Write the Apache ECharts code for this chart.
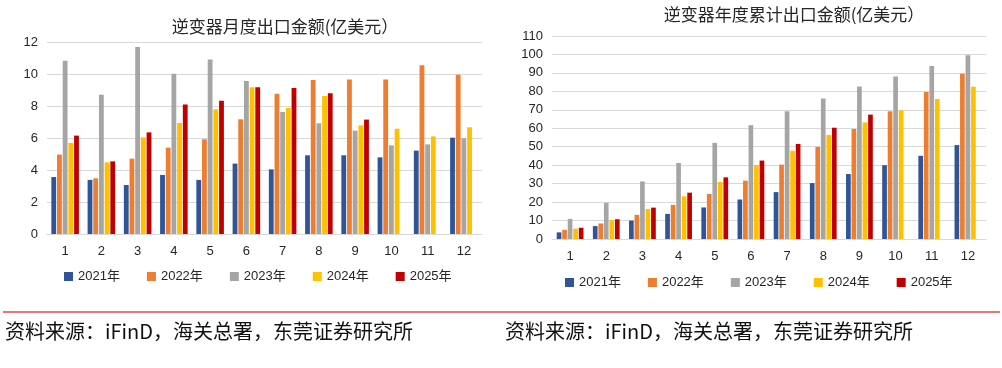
<!DOCTYPE html>
<html>
<head>
<meta charset="utf-8">
<script src="https://cdn.jsdelivr.net/npm/echarts@6/dist/echarts.min.js"></script>
<style>
html,body{margin:0;padding:0;background:#fff;}
#c{width:1002px;height:368px;}
</style>
</head>
<body>
<div id="c"></div>
<script>
// ---- data ----
var months = ['1','2','3','4','5','6','7','8','9','10','11','12'];
var seriesNames = ['2021年','2022年','2023年','2024年','2025年'];
var colors = ['#2F5597','#ED7D31','#A5A5A5','#FFC000','#C00000'];

// monthly export value (亿美元)
var m2021 = [3.56, 3.38, 3.06, 3.69, 3.38, 4.40, 4.04, 4.92, 4.92, 4.79, 5.21, 6.02];
var m2022 = [4.96, 3.48, 4.71, 5.40, 5.92, 7.17, 8.77, 9.63, 9.65, 9.65, 10.54, 9.96];
var m2023 = [10.83, 8.71, 11.69, 10.02, 10.90, 9.57, 7.63, 6.92, 6.46, 5.54, 5.60, 5.98];
var m2024 = [5.69, 4.48, 6.04, 6.94, 7.79, 9.17, 7.88, 8.63, 6.79, 6.58, 6.10, 6.67];
var m2025 = [6.15, 4.54, 6.35, 8.10, 8.33, 9.17, 9.13, 8.79, 7.15];

// cumulative export value (亿美元)
var c2021 = [3.6, 7.0, 10.0, 13.6, 17.1, 21.4, 25.4, 30.3, 35.2, 40.0, 45.1, 50.9];
var c2022 = [5.0, 8.4, 13.1, 18.5, 24.4, 31.6, 40.3, 49.9, 59.6, 69.2, 79.7, 89.6];
var c2023 = [10.9, 19.6, 31.2, 41.2, 52.1, 61.7, 69.2, 76.1, 82.6, 88.0, 93.7, 99.6];
var c2024 = [5.6, 10.2, 16.2, 23.1, 30.9, 40.1, 47.8, 56.4, 63.2, 69.8, 75.8, 82.5];
var c2025 = [6.1, 10.7, 17.0, 25.1, 33.4, 42.5, 51.5, 60.3, 67.4];

var leftTitle = '逆变器月度出口金额(亿美元）';
var rightTitle = '逆变器年度累计出口金额(亿美元）';
var sourceText = '资料来源：iFinD，海关总署，东莞证券研究所';

// ---- chart ----
var monthly = [m2021, m2022, m2023, m2024, m2025];
var cumulative = [c2021, c2022, c2023, c2024, c2025];

var axisFont = {fontFamily: 'Liberation Sans, Arial, sans-serif', fontSize: 13, color: '#262626'};
var cjk = '"Noto Sans CJK SC", sans-serif';

function xAxis(gi) {
  return {
    type: 'category', gridIndex: gi, data: months,
    axisTick: {show: false},
    axisLine: {lineStyle: {color: '#D9D9D9', width: 1}},
    axisLabel: Object.assign({margin: 11}, axisFont)
  };
}
function yAxis(gi, max, interval) {
  return {
    type: 'value', gridIndex: gi, min: 0, max: max, interval: interval,
    axisLine: {show: false}, axisTick: {show: false},
    splitLine: {lineStyle: {color: '#D9D9D9', width: 1}},
    axisLabel: Object.assign({margin: 9}, axisFont)
  };
}

var series = [];
seriesNames.forEach(function (n, i) {
  series.push({
    name: n, type: 'bar', xAxisIndex: 0, yAxisIndex: 0,
    data: monthly[i], itemStyle: {color: colors[i]},
    barCategoryGap: '24%', barGap: '18%', silent: true
  });
});
seriesNames.forEach(function (n, i) {
  series.push({
    name: n, type: 'bar', xAxisIndex: 1, yAxisIndex: 1,
    data: cumulative[i], itemStyle: {color: colors[i]},
    barCategoryGap: '26%', barGap: '18%', silent: true
  });
});

function legend(left, top) {
  return {
    data: seriesNames, left: left, top: top, padding: 0,
    itemWidth: 9, itemHeight: 9, itemGap: 27, icon: 'rect',
    textStyle: {fontFamily: 'Liberation Sans, "Noto Sans CJK SC", sans-serif', fontSize: 13, color: '#262626'},
    selectedMode: false
  };
}

var chart = echarts.init(document.getElementById('c'), null, {renderer: 'canvas'});
chart.setOption({
  animation: false,
  backgroundColor: '#fff',
  color: colors,
  grid: [
    {left: 47, top: 42, width: 435, height: 192},
    {left: 552, top: 36, width: 434, height: 203}
  ],
  xAxis: [xAxis(0), xAxis(1)],
  yAxis: [yAxis(0, 12, 2), yAxis(1, 110, 10)],
  legend: [legend(64, 270), legend(565, 276)],
  series: series,
  graphic: [
    {type: 'text', style: {x: 285, y: 27, text: leftTitle, textAlign: 'center', textVerticalAlign: 'middle',
      fontFamily: cjk, fontSize: 17, fill: '#262626'}},
    {type: 'text', style: {x: 794, y: 15, text: rightTitle, textAlign: 'center', textVerticalAlign: 'middle',
      fontFamily: cjk, fontSize: 17, fill: '#262626'}},
    {type: 'line', shape: {x1: 3, y1: 312, x2: 1000, y2: 312}, style: {stroke: '#E0474C', lineWidth: 1.5}},
    {type: 'text', style: {x: 5, y: 331, text: sourceText, textAlign: 'left', textVerticalAlign: 'middle',
      fontFamily: cjk, fontSize: 20, fill: '#111'}},
    {type: 'text', style: {x: 505, y: 331, text: sourceText, textAlign: 'left', textVerticalAlign: 'middle',
      fontFamily: cjk, fontSize: 20, fill: '#111'}}
  ]
});
</script>
</body>
</html>
